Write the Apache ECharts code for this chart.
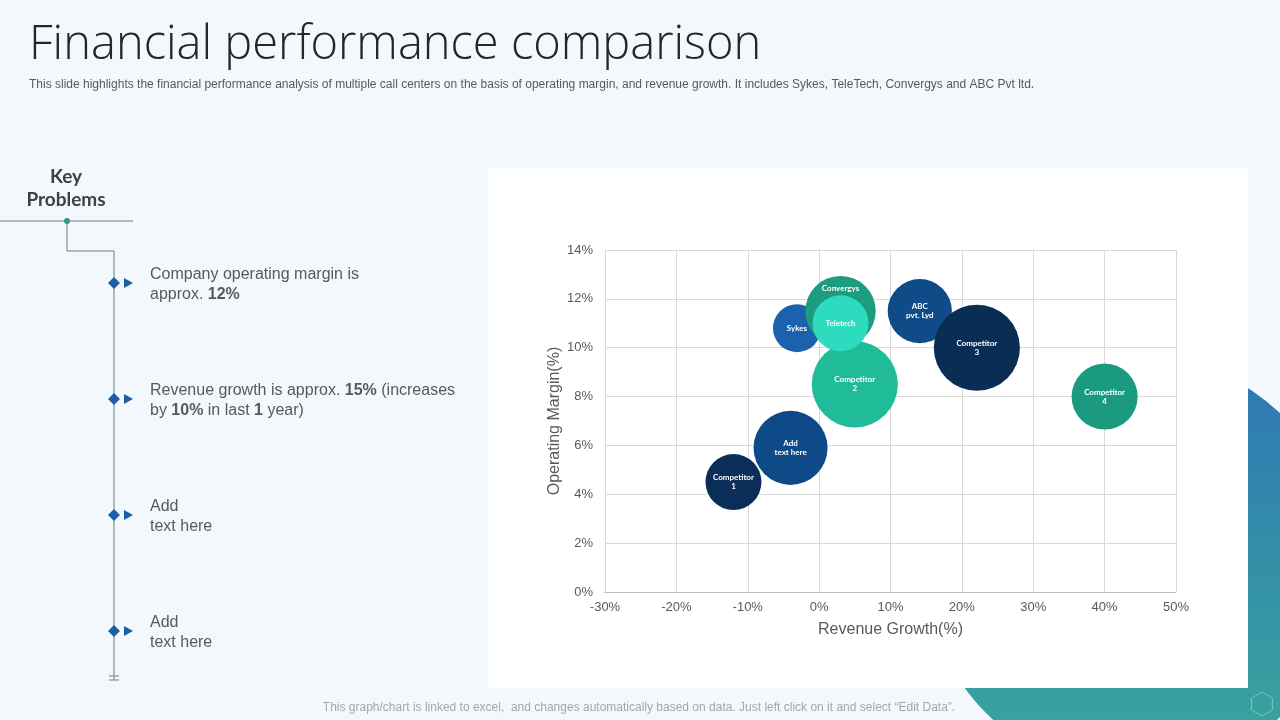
<!DOCTYPE html>
<html>
<head>
<meta charset="utf-8">
<script src="https://cdn.jsdelivr.net/npm/echarts@6/dist/echarts.min.js"></script>
<style>
html,body{margin:0;padding:0;background:#f3f8fd;}
#c{width:1280px;height:720px;}
</style>
</head>
<body>
<div id="c"></div>
<script>
// ---- data ----
const companies = ['Sykes','Convergys','Competitor 2','Teletech','ABC pvt. Lyd','Competitor 3','Competitor 1','Add text here','Competitor 4'];
const bubbleLabels = ['Sykes','Convergys','Competitor\n2','Teletech','ABC\npvt. Lyd','Competitor\n3','Competitor\n1','Add\ntext here','Competitor\n4'];
const revenueGrowth = [-3.1, 3.0, 5.0, 3.0, 14.1, 22.1, -12.0, -4.0, 40.0];
const operatingMargin = [10.8, 11.5, 8.5, 11.0, 11.5, 10.0, 4.5, 5.9, 8.0];
const bubbleSize = [5.6, 12, 18, 7.6, 10, 18, 7.6, 13.3, 10.6];
const xTicks = {min: -30, max: 50, step: 10};
const yTicks = {min: 0, max: 14, step: 2};

// ---- styles ----
const bubbleColors = ['#1b62ae','#1e9c80','#20bc99','#2ddbbf','#0f4b88','#0a2d56','#0b2e58','#0e4a87','#1a9b80'];
const labelOffsets = {'Convergys': [0,-23]};

const chart = echarts.init(document.getElementById('c'), null, {renderer:'canvas', width:1280, height:720});

const seriesData = companies.map((n,i)=>({
  name: n,
  value: [revenueGrowth[i], operatingMargin[i], bubbleSize[i]],
  itemStyle: {color: bubbleColors[i], opacity: 1},
  label: {formatter: bubbleLabels[i], offset: labelOffsets[n] || [0,0]}
}));

const diamonds = [283, 399, 515, 631];
const graphics = [];
// decorative gradient circle (behind panel)
graphics.push({type:'circle', shape:{cx:1135, cy:565, r:210}, z:0,
  style:{fill:new echarts.graphic.LinearGradient(0,0,0,1,[{offset:0,color:'#2e76b4'},{offset:1,color:'#3aa89c'}])}});
// hexagon
(function(){
  const cx=1262, cy=704, r=12, pts=[];
  for(let k=0;k<6;k++){const a=Math.PI/6+k*Math.PI/3; pts.push([cx+r*Math.cos(a), cy+r*Math.sin(a)]);}
  graphics.push({type:'polygon', shape:{points:pts}, z:2, style:{fill:'none', stroke:'rgba(160,220,210,0.6)', lineWidth:1}});
})();
// white panel
graphics.push({type:'rect', shape:{x:488,y:168,width:760,height:520}, z:1, style:{fill:'#ffffff'}});
// title
graphics.push({type:'text', x:29, y:46, z:3, style:{text:'Financial performance comparison', font:'300 47px "Open Sans", Lato, sans-serif', fill:'#262626', textVerticalAlign:'middle'}});
graphics.push({type:'text', x:29, y:85, z:3, style:{text:'This slide highlights the financial performance analysis of multiple call centers on the basis of operating margin, and revenue growth. It includes Sykes, TeleTech, Convergys and ABC Pvt ltd.', font:'12px "Liberation Sans", Arial, sans-serif', fill:'#595959', textVerticalAlign:'middle'}});
// footer
graphics.push({type:'text', x:639, y:708, z:3, style:{text:'This graph/chart is linked to excel,  and changes automatically based on data. Just left click on it and select \u201cEdit Data\u201d.', font:'12px "Liberation Sans", Arial, sans-serif', fill:'#a6a6a6', textAlign:'center', textVerticalAlign:'middle'}});
// Key Problems
graphics.push({type:'text', x:66, y:177, z:3, style:{text:'Key', font:'bold 19px Lato, sans-serif', fill:'#404040', textAlign:'center', textVerticalAlign:'middle'}});
graphics.push({type:'text', x:66, y:200, z:3, style:{text:'Problems', font:'bold 19px Lato, sans-serif', fill:'#404040', textAlign:'center', textVerticalAlign:'middle'}});
graphics.push({type:'line', shape:{x1:0,y1:221,x2:133,y2:221}, z:3, style:{stroke:'#6f7c89', lineWidth:1}});
graphics.push({type:'polyline', shape:{points:[[67,221],[67,251],[114,251],[114,680]]}, z:3, style:{stroke:'#6f7c89', lineWidth:1, fill:'none'}});
graphics.push({type:'line', shape:{x1:109,y1:676,x2:119,y2:676}, z:3, style:{stroke:'#6f7c89', lineWidth:1}});
graphics.push({type:'line', shape:{x1:109,y1:680,x2:119,y2:680}, z:3, style:{stroke:'#6f7c89', lineWidth:1}});
graphics.push({type:'circle', shape:{cx:67, cy:221, r:3}, z:4, style:{fill:'#2a9d8a'}});
diamonds.forEach(y=>{
  graphics.push({type:'polygon', shape:{points:[[114,y-6],[120,y],[114,y+6],[108,y]]}, z:4, style:{fill:'#1d5fa6'}});
  graphics.push({type:'polygon', shape:{points:[[124,y-5],[133,y],[124,y+5]]}, z:4, style:{fill:'#1d5fa6'}});
});
const bulletTexts = [
  'Company operating margin is\napprox. {b|12%}',
  'Revenue growth is approx. {b|15%} (increases\nby {b|10%} in last {b|1} year)',
  'Add\ntext here',
  'Add\ntext here'
];
bulletTexts.forEach((t,i)=>{
  graphics.push({type:'text', x:150, y:diamonds[i]-18, z:3, style:{text:t, font:'16px "Liberation Sans", Arial, sans-serif', fill:'#595959', lineHeight:20,
    rich:{b:{font:'bold 16px "Liberation Sans", Arial, sans-serif', fill:'#595959', lineHeight:20}}}});
});

const option = {
  backgroundColor: '#f3f8fd',
  animation: false,
  graphic: {elements: graphics},
  grid: {left:605, top:250, width:571, height:342, containLabel:false, z:5},
  xAxis: {
    type:'value', min:xTicks.min, max:xTicks.max, interval:xTicks.step,
    name:'Revenue Growth(%)', nameLocation:'middle', nameGap:30,
    nameTextStyle:{fontFamily:'"Liberation Sans", Arial, sans-serif', fontSize:16, color:'#595959'},
    axisLabel:{formatter:'{value}%', fontFamily:'"Liberation Sans", Arial, sans-serif', fontSize:13, color:'#595959', margin:9},
    axisLine:{show:true, onZero:false, lineStyle:{color:'#bfbfbf'}},
    axisTick:{show:false},
    splitLine:{show:true, lineStyle:{color:'#d9d9d9'}},
    z:5
  },
  yAxis: {
    type:'value', min:yTicks.min, max:yTicks.max, interval:yTicks.step,
    name:'Operating Margin(%)', nameLocation:'middle', nameGap:39, nameRotate:90,
    nameTextStyle:{fontFamily:'"Liberation Sans", Arial, sans-serif', fontSize:16, color:'#595959'},
    axisLabel:{formatter:'{value}%', fontFamily:'"Liberation Sans", Arial, sans-serif', fontSize:13, color:'#595959', margin:12},
    axisLine:{show:true, lineStyle:{color:'#d9d9d9'}},
    axisTick:{show:false},
    splitLine:{show:true, lineStyle:{color:'#d9d9d9'}},
    z:5
  },
  series: [{
    type:'scatter',
    z:6,
    data: seriesData,
    symbolSize: v => Math.sqrt(v[2]) * 20.3,
    label:{show:true, position:'inside', color:'#ffffff', fontSize:8, fontWeight:'bold', fontFamily:'Lato, "Open Sans", sans-serif', lineHeight:9, align:'center'},
    emphasis:{disabled:true}
  }]
};
chart.setOption(option);
</script>
</body>
</html>
